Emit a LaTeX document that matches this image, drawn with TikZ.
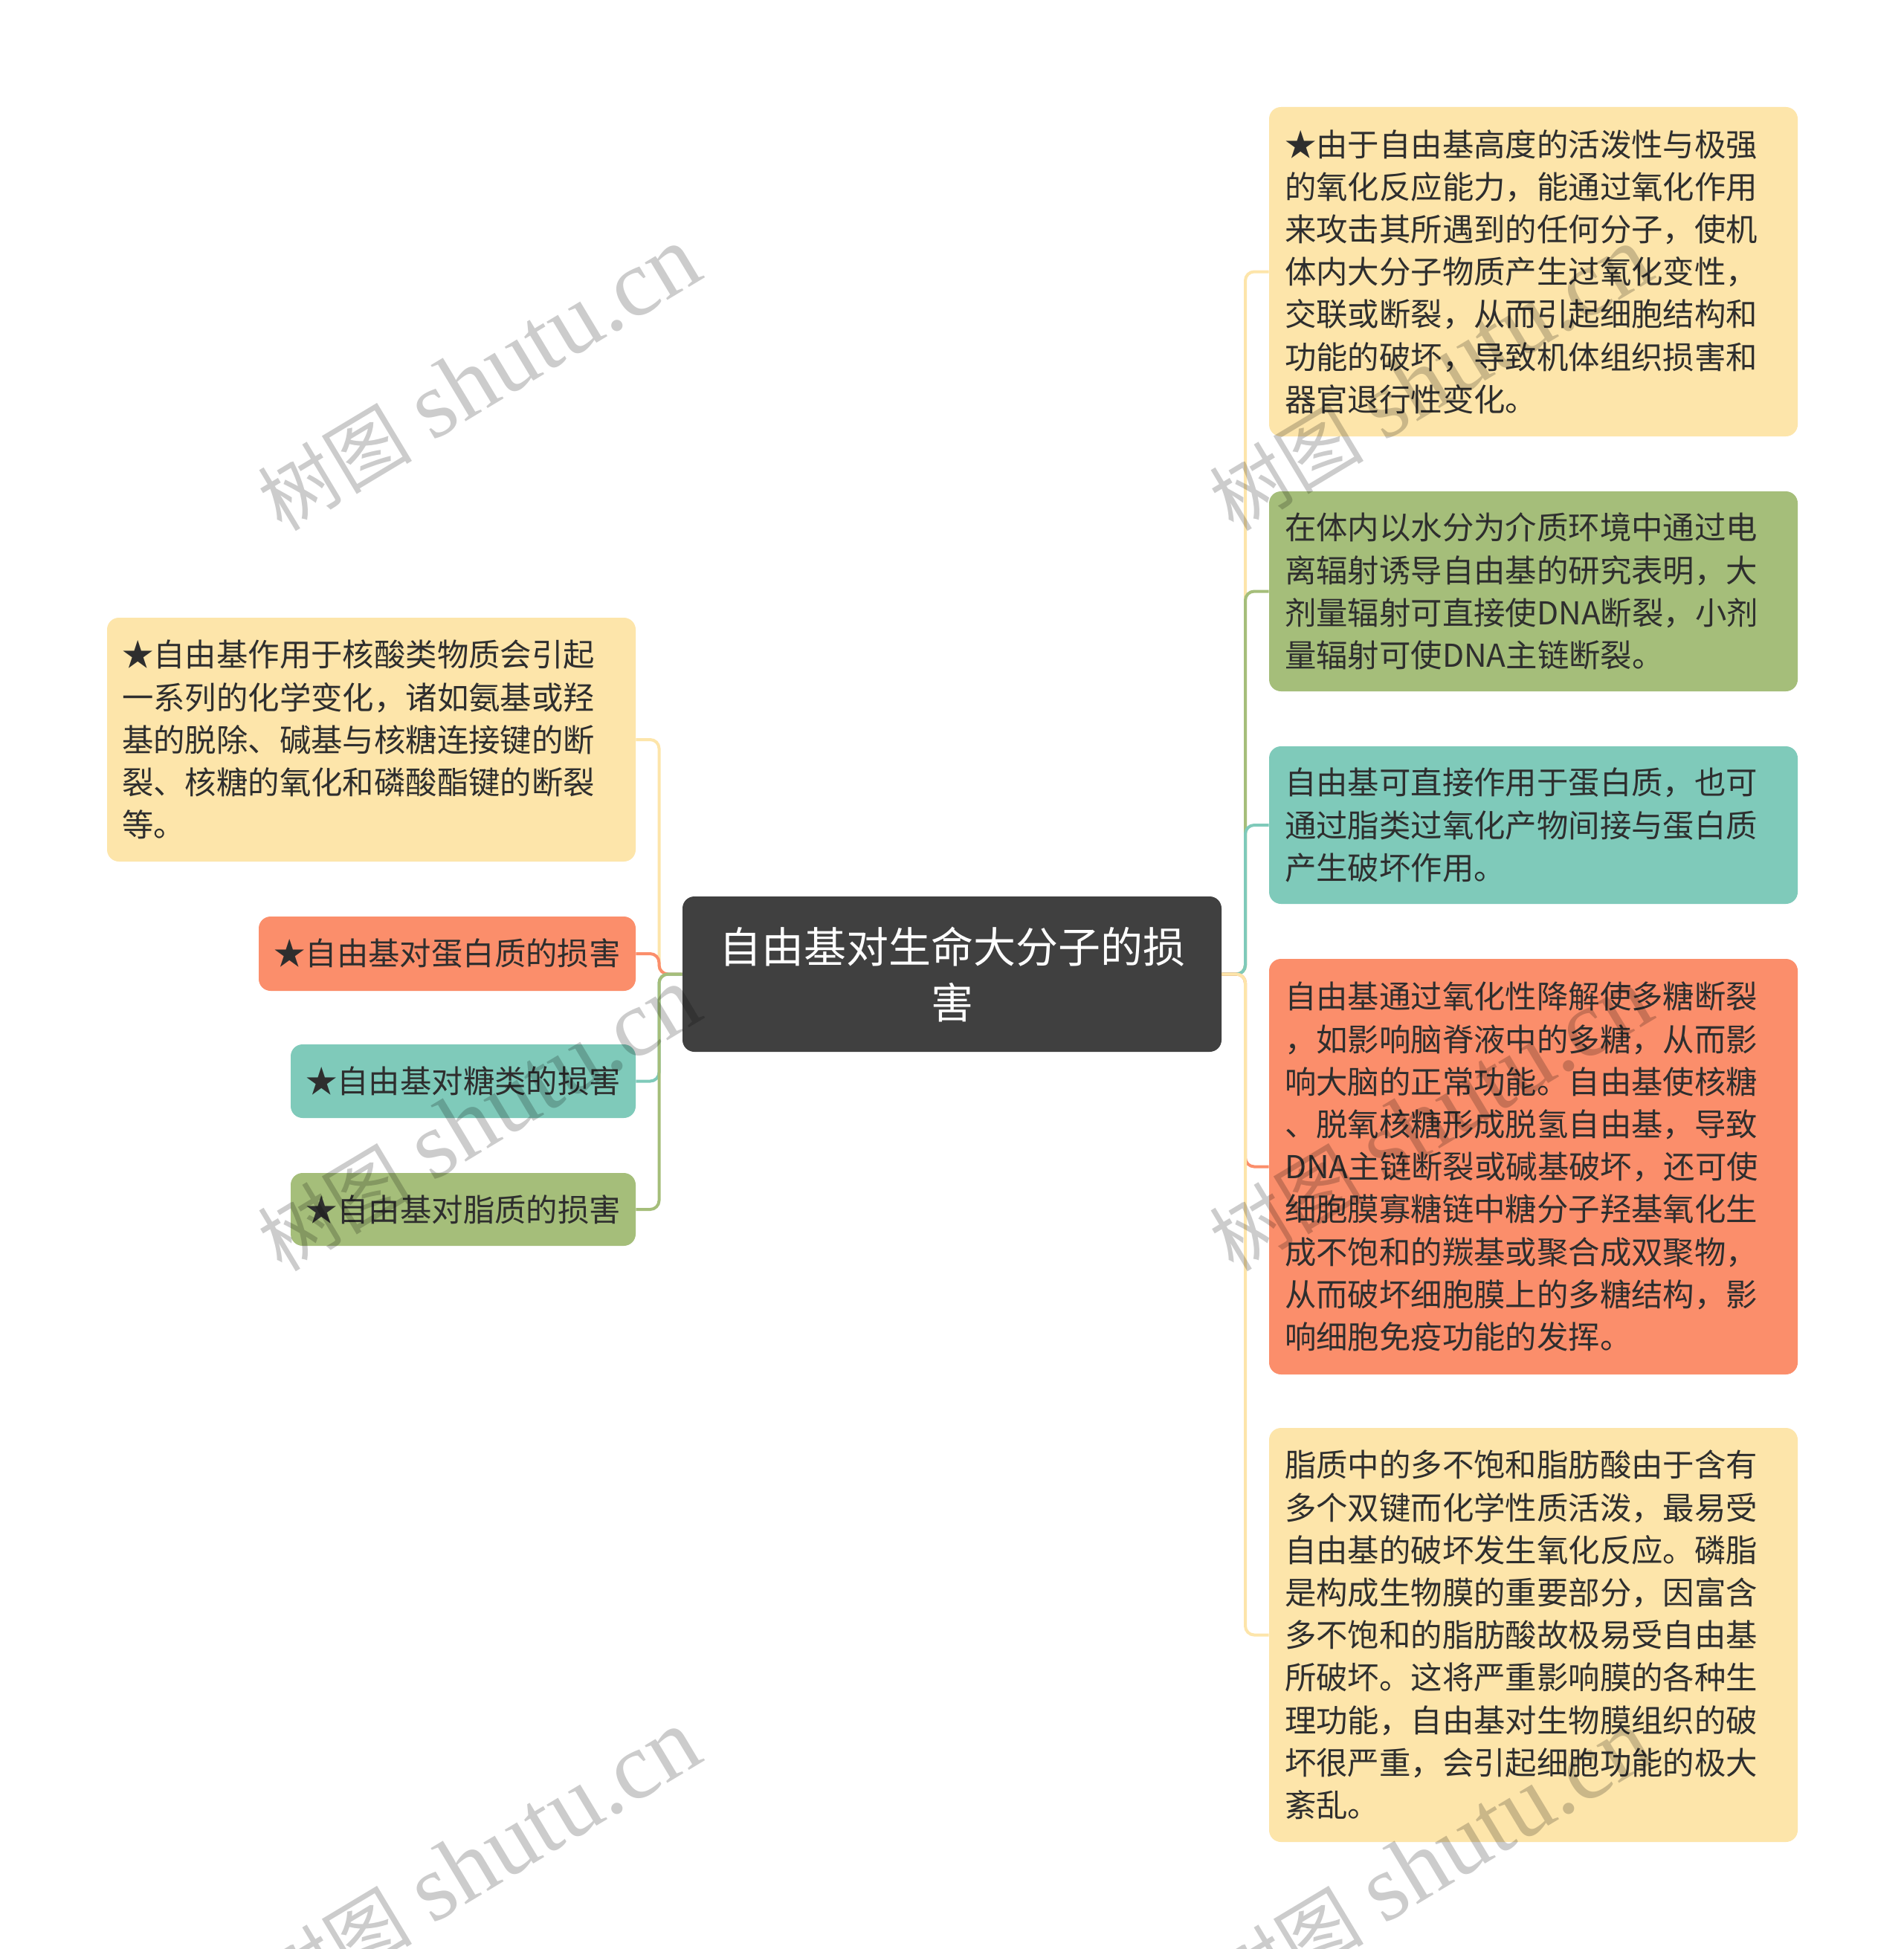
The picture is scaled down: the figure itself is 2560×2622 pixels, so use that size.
\documentclass[tikz,border=0pt]{standalone}
\usepackage{fontspec}
\setmainfont{Noto Sans CJK SC}
\newfontfamily\wmserif{Liberation Serif}
\newfontfamily\wmcjk{Noto Sans CJK SC}
\definecolor{cyellow}{HTML}{FDE5AA}
\definecolor{cgreen}{HTML}{A5BE7A}
\definecolor{cteal}{HTML}{7FCABA}
\definecolor{csalmon}{HTML}{FB8E6B}
\definecolor{croot}{HTML}{404040}
\definecolor{ctext}{HTML}{2E2E2E}
\tikzset{
  box/.style={rounded corners=8pt, inner sep=0pt, minimum width=355.5pt},
  txt/.style={font=\fontsize{21.2}{28.6}\selectfont, text=ctext, align=left, inner sep=0pt, anchor=west},
  stxt/.style={font=\fontsize{21.2}{28.6}\selectfont, text=ctext, inner sep=0pt},
  link/.style={line width=2pt, rounded corners=6pt},
  wm/.style={rotate=31, text=black, text opacity=0.2, inner sep=0pt}
}
\begin{document}
\begin{tikzpicture}[x=0.5pt,y=-0.5pt]
\useasboundingbox (0,0) rectangle (2560,2622);
\fill[white] (0,0) rectangle (2560,2622);
% root
\node[box, fill=croot, minimum width=362.5pt, minimum height=104.5pt, text=white, align=center,
  font=\fontsize{28.5}{37.5}\selectfont] (root) at (1280.5,1310.5) {自由基对生命大分子的损\\害};
% left boxes
\node[box, fill=cyellow, minimum height=164pt] (L1) at (499.5,995) {};
\node[txt] (L1t) at ([xshift=10pt]L1.west) {★自由基作用于核酸类物质会引起\\一系列的化学变化，诸如氨基或羟\\基的脱除、碱基与核糖连接键的断\\裂、核糖的氧化和磷酸酯键的断裂\\等。};
\node[box, fill=csalmon, minimum width=253.5pt, minimum height=50pt] (L2) at (601.5,1283) {};
\node[stxt] (L2t) at (L2.center) {★自由基对蛋白质的损害};
\node[box, fill=cteal, minimum width=232pt, minimum height=49.5pt] (L3) at (623,1454.5) {};
\node[stxt] (L3t) at (L3.center) {★自由基对糖类的损害};
\node[box, fill=cgreen, minimum width=232pt, minimum height=49pt] (L4) at (623,1627) {};
\node[stxt] (L4t) at (L4.center) {★自由基对脂质的损害};
% right boxes
\node[box, fill=cyellow, minimum height=221.5pt] (R1) at (2062.5,365.5) {};
\node[txt] (R1t) at ([xshift=10.5pt]R1.west) {★由于自由基高度的活泼性与极强\\的氧化反应能力，能通过氧化作用\\来攻击其所遇到的任何分子，使机\\体内大分子物质产生过氧化变性，\\交联或断裂，从而引起细胞结构和\\功能的破坏，导致机体组织损害和\\器官退行性变化。};
\node[box, fill=cgreen, minimum height=134.5pt] (R2) at (2062.5,795.5) {};
\node[txt] (R2t) at ([xshift=10.5pt]R2.west) {在体内以水分为介质环境中通过电\\离辐射诱导自由基的研究表明，大\\剂量辐射可直接使DNA断裂，小剂\\量辐射可使DNA主链断裂。};
\node[box, fill=cteal, minimum height=106pt] (R3) at (2062.5,1110) {};
\node[txt] (R3t) at ([xshift=10.5pt]R3.west) {自由基可直接作用于蛋白质，也可\\通过脂类过氧化产物间接与蛋白质\\产生破坏作用。};
\node[box, fill=csalmon, minimum height=279.5pt] (R4) at (2062.5,1569.5) {};
\node[txt] (R4t) at ([xshift=10.5pt]R4.west) {自由基通过氧化性降解使多糖断裂\\，如影响脑脊液中的多糖，从而影\\响大脑的正常功能。自由基使核糖\\、脱氧核糖形成脱氢自由基，导致\\DNA主链断裂或碱基破坏，还可使\\细胞膜寡糖链中糖分子羟基氧化生\\成不饱和的羰基或聚合成双聚物，\\从而破坏细胞膜上的多糖结构，影\\响细胞免疫功能的发挥。};
\node[box, fill=cyellow, minimum height=278.5pt] (R5) at (2062.5,2199.5) {};
\node[txt] (R5t) at ([xshift=10.5pt]R5.west) {脂质中的多不饱和脂肪酸由于含有\\多个双键而化学性质活泼，最易受\\自由基的破坏发生氧化反应。磷脂\\是构成生物膜的重要部分，因富含\\多不饱和的脂肪酸故极易受自由基\\所破坏。这将严重影响膜的各种生\\理功能，自由基对生物膜组织的破\\坏很严重，会引起细胞功能的极大\\紊乱。};
% spines
\coordinate (spL) at (886.5,0);
\coordinate (spR) at (1675,0);
% connectors
\draw[link, cyellow] (root.west) -- (root.west -| spL) -- (L1.east -| spL) -- (L1.east);
\draw[link, csalmon] (root.west) -- (root.west -| spL) -- (L2.east -| spL) -- (L2.east);
\draw[link, cteal] (root.west) -- (root.west -| spL) -- (L3.east -| spL) -- (L3.east);
\draw[link, cgreen] (root.west) -- (root.west -| spL) -- (L4.east -| spL) -- (L4.east);
\draw[link, cyellow] (root.east) -- (root.east -| spR) -- (R1.west -| spR) -- (R1.west);
\draw[link, cgreen] (root.east) -- (root.east -| spR) -- (R2.west -| spR) -- (R2.west);
\draw[link, cteal] (root.east) -- (root.east -| spR) -- (R3.west -| spR) -- (R3.west);
\draw[link, csalmon] (root.east) -- (root.east -| spR) -- (R4.west -| spR) -- (R4.west);
\draw[link, cyellow] (root.east) -- (root.east -| spR) -- (R5.west -| spR) -- (R5.west);
% watermarks
\foreach \i/\px/\py in {1/644/510, 2/1924/510, 3/644/1506, 4/1924/1506, 5/644/2505, 6/1924/2505}{
  \node[wm] (wm\i) at (\px,\py) {{\wmcjk\fontsize{52}{52}\selectfont 树图}\hspace{14pt}{\wmserif\fontsize{64}{64}\selectfont shutu.cn}};
}
\end{tikzpicture}
\end{document}
